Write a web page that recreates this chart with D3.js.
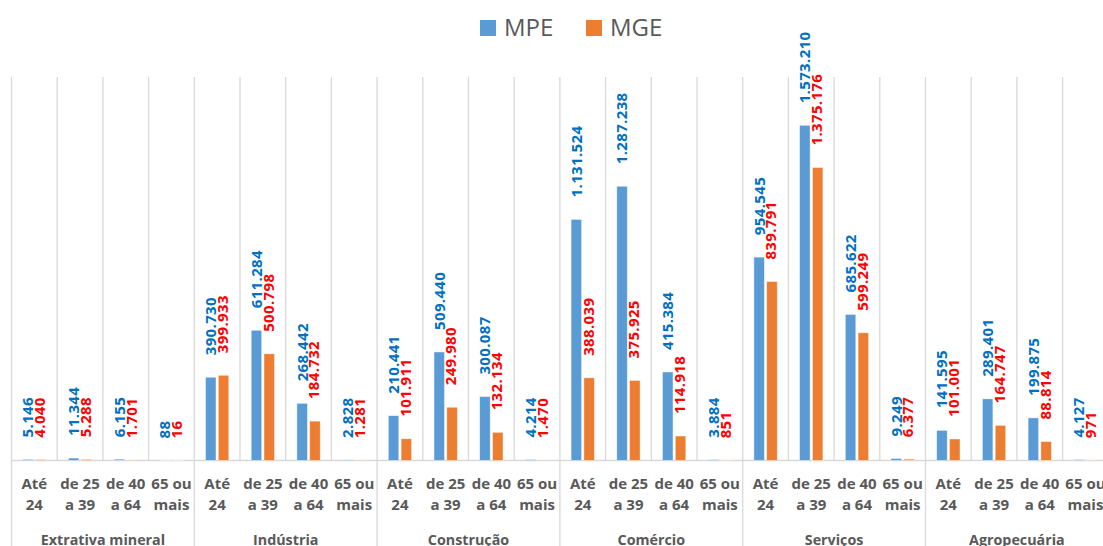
<!DOCTYPE html>
<html><head><meta charset="utf-8">
<script src="https://cdn.jsdelivr.net/npm/d3@7"></script>
<style>body{margin:0;background:#fff;overflow:hidden}svg{display:block}</style>
</head><body>
<svg id="chart" width="1103" height="546"></svg>
<script>
const sectors = ["Extrativa mineral","Indústria","Construção","Comércio","Serviços","Agropecuária"];
const ageGroups = [["Até","24"],["de 25","a 39"],["de 40","a 64"],["65 ou","mais"]];
const seriesNames = ["MPE","MGE"];
const mpe = [5146,11344,6155,88, 390730,611284,268442,2828, 210441,509440,300087,4214,
             1131524,1287238,415384,3884, 954545,1573210,685622,9249, 141595,289401,199875,4127];
const mge = [4040,5288,1701,16, 399933,500798,184732,1281, 101911,249980,132134,1470,
             388039,375925,114918,851, 839791,1375176,599249,6377, 101001,164747,88814,971];

(function(){
const colors = {MPE:"#5B9BD5", MGE:"#ED7D31"};
const labelColors = {MPE:"#0070C0", MGE:"#FF0000"};
const svg = d3.select("#chart");
const fmt = d3.formatLocale({decimal:",", thousands:".", grouping:[3], currency:["R$",""]}).format(",d");

const left = 11.5, catW = 45.7, nCat = sectors.length*ageGroups.length;
const plotTop = 77, base = 460.5;
const cats = d3.range(nCat);
const x = d3.scaleBand().domain(cats).range([left, left+catW*nCat]).padding(0);
const gx = d3.scaleBand().domain(sectors).range([left, left+catW*nCat]).padding(0);
const y = d3.scaleLinear().domain([0,1800000]).range([base, plotTop]);
const inner = d3.scaleBand().domain(seriesNames).range([-11.65, 11.65]).paddingInner(0.18);

const grid = "#D9D9D9";
svg.append("g").selectAll("line").data(d3.range(nCat+1)).join("line")
  .attr("x1", i=>left+i*catW).attr("x2", i=>left+i*catW)
  .attr("y1", plotTop).attr("y2", i=> i%4===0 ? 546 : base)
  .attr("stroke", grid).attr("stroke-width",1.3);
svg.append("line").attr("x1",left).attr("x2",left+catW*nCat).attr("y1",base).attr("y2",base)
  .attr("stroke",grid).attr("stroke-width",1.3);

const vals = {MPE: mpe, MGE: mge};
seriesNames.forEach(s=>{
  svg.append("g").selectAll("rect").data(cats).join("rect")
    .attr("x", i=> x(i)+x.bandwidth()/2+inner(s))
    .attr("width", inner.bandwidth())
    .attr("y", i=> y(vals[s][i]))
    .attr("height", i=> base - y(vals[s][i]))
    .attr("fill", colors[s]).attr("stroke","#fff").attr("stroke-opacity",0.6).attr("stroke-width",0.7);
  svg.append("g").selectAll("text").data(cats).join("text")
    .attr("transform", i=>`translate(${x(i)+x.bandwidth()/2+inner(s)+inner.bandwidth()/2 - (s==="MGE"?1:0)},${y(vals[s][i])-22}) rotate(-90)`)
    .attr("dy","0.36em")
    .attr("font-family","'Open Sans', sans-serif").attr("font-weight","bold").attr("font-size","15px")
    .attr("letter-spacing","0.35px")
    .attr("fill", labelColors[s])
    .text(i=>fmt(vals[s][i]));
});

const catG = svg.append("g").attr("font-family","'Open Sans', sans-serif").attr("font-weight","bold")
  .attr("font-size","15px").attr("fill","#595959").attr("text-anchor","middle");
cats.forEach(i=>{
  const a = ageGroups[i%4];
  catG.append("text").attr("x", x(i)+x.bandwidth()/2).attr("y", 489).text(a[0]);
  catG.append("text").attr("x", x(i)+x.bandwidth()/2).attr("y", 510).text(a[1]);
});
const secG = svg.append("g").attr("font-family","'Open Sans', sans-serif").attr("font-weight","bold")
  .attr("font-size","14.3px").attr("fill","#595959").attr("text-anchor","middle");
secG.selectAll("text").data(sectors).join("text")
  .attr("x", d=> gx(d)+gx.bandwidth()/2).attr("y", 545).text(d=>d);

const leg = svg.append("g").attr("font-family","'Open Sans', sans-serif").attr("font-size","24px").attr("fill","#595959");
const legX = {MPE:480, MGE:586};
seriesNames.forEach(s=>{
  leg.append("rect").attr("x",legX[s]).attr("y",20).attr("width",16).attr("height",16).attr("fill",colors[s]);
  leg.append("text").attr("x",legX[s]+24).attr("y",36).text(s);
});
})();
</script>
</body></html>
